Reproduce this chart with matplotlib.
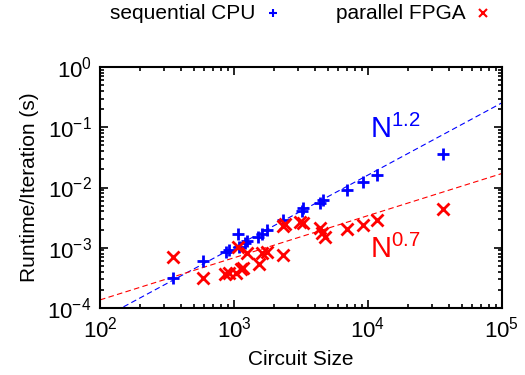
import numpy as np
import matplotlib
matplotlib.use("Agg")
import matplotlib.pyplot as plt
from matplotlib.ticker import LogLocator, NullFormatter

plt.rcParams['font.family'] = ['Liberation Sans', 'DejaVu Sans']
plt.rcParams['mathtext.fontset'] = 'custom'
plt.rcParams['mathtext.rm'] = 'Liberation Sans'
plt.rcParams['mathtext.default'] = 'regular'

# sequential CPU runtimes
cpu_size = [349, 591, 871, 922, 1077, 1095, 1208, 1245, 1519, 1609, 1755,
            2333, 3200, 3290, 4385, 4640, 6930, 9220, 11600, 36500]
cpu_time = [3.1e-4, 6.0e-4, 8.4e-4, 9.2e-4, 1.69e-3, 1.02e-3, 1.19e-3, 1.31e-3,
            1.53e-3, 1.69e-3, 1.97e-3, 2.89e-3, 4.12e-3, 4.5e-3, 5.6e-3, 6.2e-3,
            9.1e-3, 1.25e-2, 1.61e-2, 3.6e-2]

# parallel FPGA runtimes
fpga_size = [349, 590, 857, 920, 1035, 1137, 1173, 1077, 1245, 1545, 1609, 1755,
             2333, 2323, 2400, 3110, 3290, 4385, 4510, 4775, 6930, 9220, 11600, 36500]
fpga_time = [7.0e-4, 3.1e-4, 3.6e-4, 3.77e-4, 3.77e-4, 4.35e-4, 4.56e-4, 1.03e-3,
             8.1e-4, 5.4e-4, 8.1e-4, 8.6e-4, 7.6e-4, 2.25e-3, 2.45e-3, 2.7e-3,
             2.55e-3, 2.1e-3, 1.74e-3, 1.53e-3, 2.02e-3, 2.39e-3, 2.89e-3, 4.35e-3]

# fitted power laws  a * N^b
cpu_fit = (2.55e-7, 1.2)
fpga_fit = (5.4e-6, 0.7)

fig = plt.figure(figsize=(5.25, 3.75), dpi=100)
ax = fig.add_axes([0.1905, 0.179, 0.7655, 0.642])

xf = np.logspace(2, 5, 200)
ax.plot(xf, cpu_fit[0] * xf ** cpu_fit[1], '--', color='blue', lw=0.8, dashes=(5, 3))
ax.plot(xf, fpga_fit[0] * xf ** fpga_fit[1], '--', color='red', lw=0.8, dashes=(5, 3))

ax.plot(cpu_size, cpu_time, '+', color='blue', ms=9, mew=2)
ax.plot(fpga_size, fpga_time, 'x', color='red', ms=8, mew=2)

ax.text(10400, 0.066, '$N^{1.2}$', color='blue', fontsize=21, va='baseline')
ax.text(10400, 6.8e-4, '$N^{0.7}$', color='red', fontsize=21, va='baseline')

ax.set_xscale('log')
ax.set_yscale('log')
ax.set_xlim(1e2, 1e5)
ax.set_ylim(1e-4, 1e0)
ax.xaxis.set_major_locator(LogLocator(base=10, numticks=10))
ax.yaxis.set_major_locator(LogLocator(base=10, numticks=10))
ax.xaxis.set_minor_locator(LogLocator(base=10, subs=np.arange(2, 10), numticks=20))
ax.yaxis.set_minor_locator(LogLocator(base=10, subs=np.arange(2, 10), numticks=20))
ax.xaxis.set_minor_formatter(NullFormatter())
ax.yaxis.set_minor_formatter(NullFormatter())
ax.tick_params(which='both', direction='in', top=True, right=True, labelsize=16, width=1.2)
ax.tick_params(which='major', length=6, pad=6)
ax.tick_params(which='minor', length=3)
for s in ax.spines.values():
    s.set_linewidth(1.5)

ax.set_xlabel('Circuit Size', fontsize=15, labelpad=6)
ax.set_ylabel('Runtime/Iteration (s)', fontsize=15, labelpad=6)

# key above the plot, text then marker
fig.text(0.486, 0.965, 'sequential CPU', ha='right', va='center', fontsize=15)
fig.text(0.886, 0.965, 'parallel FPGA', ha='right', va='center', fontsize=15)
ax.plot([0.52], [0.965], '+', color='blue', ms=6, mew=1.5,
        transform=fig.transFigure, clip_on=False)
ax.plot([0.92], [0.965], 'x', color='red', ms=5.5, mew=1.5,
        transform=fig.transFigure, clip_on=False)

fig.savefig('out.png', dpi=100)
